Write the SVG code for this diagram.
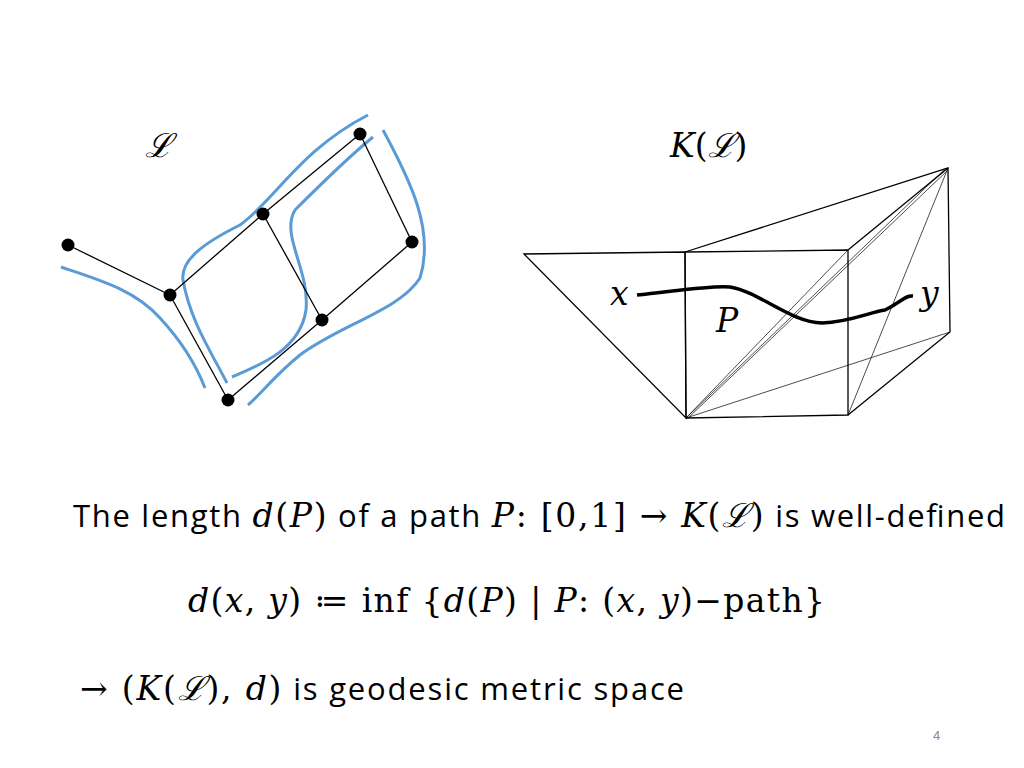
<svg xmlns="http://www.w3.org/2000/svg" width="1024" height="768" viewBox="0 0 1024 768">
<style>
.e{stroke:#000;stroke-width:1.3;fill:none}
.t{stroke:#000;stroke-width:0.7;fill:none}
.b{stroke:#5b9bd5;stroke-width:3;fill:none}
.s{font-family:"Open Sans","Liberation Sans",sans-serif;font-size:31px;fill:#000}
.m{font-family:"DejaVu Serif","Liberation Serif",serif;font-size:33px;fill:#000}
.i{font-style:italic}
</style>
<rect width="1024" height="768" fill="#fff"/>
<text class="m" x="145" y="157" font-size="40" font-style="italic">ℒ</text>
<text class="m i" x="670" y="157" font-size="42">K<tspan font-style="normal">(</tspan>ℒ<tspan font-style="normal">)</tspan></text>
<g id="blue">
<path class="b" d="M61,267 C100,280 135,290 160,318 C185,345 198,370 205,388"/>
<path class="b" d="M232,377 C260,365 300,350 306,310 C310,270 280,235 295,210 C315,190 345,160 373,137"/>
<path class="b" d="M227,383 C210,350 190,320 183,280 C180,258 210,240 240,225 C275,200 300,150 368,115"/>
<path class="b" d="M383,130 C410,180 435,230 420,278 C400,310 340,325 300,355 C275,375 260,395 248,405"/>
</g>
<g id="connectors">
<line class="e" x1="68" y1="245" x2="170" y2="295"/>
<line class="e" x1="170" y1="295" x2="263" y2="214"/>
<line class="e" x1="263" y1="214" x2="360" y2="134"/>
<line class="e" x1="360" y1="134" x2="412" y2="242"/>
<line class="e" x1="412" y1="242" x2="322" y2="320"/>
<line class="e" x1="322" y1="320" x2="228" y2="400"/>
<line class="e" x1="228" y1="400" x2="170" y2="295"/>
<line class="e" x1="263" y1="214" x2="322" y2="320"/>
</g>
<g id="nodes" fill="#000">
<circle id="n1" cx="68" cy="245" r="6.5"/>
<circle id="n2" cx="170" cy="295" r="6.5"/>
<circle id="n3" cx="263" cy="214" r="6.5"/>
<circle id="n4" cx="360" cy="134" r="6.5"/>
<circle id="n5" cx="412" cy="242" r="6.5"/>
<circle id="n6" cx="322" cy="320" r="6.5"/>
<circle id="n7" cx="228" cy="400" r="6.5"/>
</g>
<g id="complex">
<polygon class="e" points="524,254 685,252 686,418"/>
<polygon class="e" points="685,252 848,250 848,415 686,418"/>
<polyline class="e" points="685,252 948,168 950,332 848,415"/>
<line class="e" x1="848" y1="250" x2="948" y2="168"/>
<line class="t" x1="686" y1="418" x2="946" y2="168"/>
<line class="t" x1="688" y1="418" x2="948" y2="170"/>
<line class="t" x1="686" y1="418" x2="848" y2="250"/>
<line class="t" x1="686" y1="418" x2="950" y2="332"/>
<line class="t" x1="848" y1="415" x2="948" y2="168"/>
<path d="M637,295 C670,292 710,285 730,287 C760,292 790,322 822,323 C850,322 870,312 885,310 C900,303 905,295 913,296" stroke="#000" stroke-width="3.5" fill="none"/>
<text class="m i" x="610" y="305">x</text>
<text class="m i" x="920" y="305">y</text>
<text class="m i" x="716" y="332">P</text>
</g>
<text class="s" x="73" y="527" textLength="932" lengthAdjust="spacing">The length <tspan class="m i">d</tspan><tspan class="m">(</tspan><tspan class="m i">P</tspan><tspan class="m">)</tspan> of a path <tspan class="m i">P</tspan><tspan class="m">: [0,1] → </tspan><tspan class="m i">K</tspan><tspan class="m">(</tspan><tspan class="m i">ℒ</tspan><tspan class="m">)</tspan> is well-defined</text>
<text class="m" x="188" y="612" textLength="637" lengthAdjust="spacing"><tspan class="i">d</tspan>(<tspan class="i">x</tspan>, <tspan class="i">y</tspan>) ≔  inf {<tspan class="i">d</tspan>(<tspan class="i">P</tspan>) | <tspan class="i">P</tspan>: (<tspan class="i">x</tspan>, <tspan class="i">y</tspan>)−path}</text>
<text class="s" x="80" y="700" textLength="604" lengthAdjust="spacing"><tspan class="m">→ (</tspan><tspan class="m i">K</tspan><tspan class="m">(</tspan><tspan class="m i">ℒ</tspan><tspan class="m">), </tspan><tspan class="m i">d</tspan><tspan class="m">)</tspan> is geodesic metric space</text>
<text x="933" y="740" font-family="Liberation Sans,sans-serif" font-size="13" fill="#888">4</text>
</svg>
